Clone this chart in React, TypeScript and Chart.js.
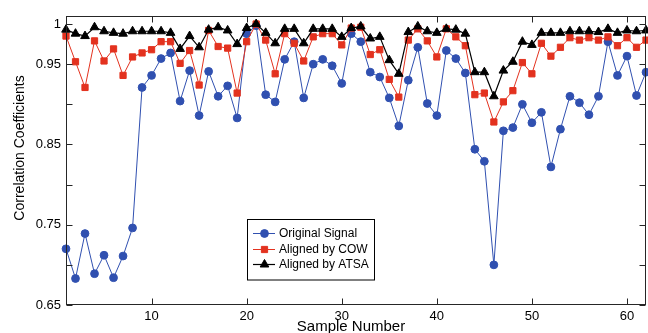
import React, { useEffect, useRef } from 'react';
import { Chart, registerables } from 'chart.js';

Chart.register(...registerables);

const sampleNumbers = [
  1, 2, 3, 4, 5, 6, 7, 8, 9, 10, 11, 12, 13, 14, 15, 16, 17, 18, 19, 20, 21,
  22, 23, 24, 25, 26, 27, 28, 29, 30, 31, 32, 33, 34, 35, 36, 37, 38, 39, 40,
  41, 42, 43, 44, 45, 46, 47, 48, 49, 50, 51, 52, 53, 54, 55, 56, 57, 58, 59,
  60, 61, 62,
];

const originalSignal = [
  0.72, 0.683, 0.739, 0.689, 0.712, 0.684, 0.711, 0.746, 0.921, 0.936,
  0.957, 0.964, 0.904, 0.942, 0.886, 0.941, 0.91, 0.923, 0.883, 0.988,
  0.998, 0.912, 0.903, 0.956, 0.978, 0.908, 0.95, 0.956, 0.948, 0.926,
  0.988, 0.978, 0.94, 0.934, 0.908, 0.873, 0.93, 0.971, 0.901, 0.886,
  0.967, 0.957, 0.939, 0.844, 0.829, 0.7, 0.867, 0.871, 0.9, 0.877,
  0.89, 0.822, 0.869, 0.91, 0.902, 0.887, 0.91, 0.978, 0.936, 0.96, 0.911, 0.94,
];

const alignedCOW = [
  0.985, 0.953, 0.921, 0.979, 0.954, 0.969, 0.936, 0.959, 0.964, 0.968,
  0.978, 0.978, 0.951, 0.967, 0.924, 0.992, 0.972, 0.97, 0.914, 0.978,
  1.0, 0.98, 0.938, 0.988, 0.976, 0.954, 0.984, 0.988, 0.988, 0.974,
  0.995, 0.996, 0.962, 0.968, 0.931, 0.909, 0.98, 0.994, 0.979, 0.959,
  0.994, 0.984, 0.973, 0.912, 0.914, 0.878, 0.903, 0.917, 0.952, 0.938,
  0.976, 0.96, 0.971, 0.983, 0.98, 0.983, 0.98, 0.984, 0.973, 0.983, 0.971, 0.98,
];

const alignedATSA = [
  0.993, 0.988, 0.985, 0.996, 0.991, 0.989, 0.988, 0.991, 0.991, 0.991,
  0.991, 0.989, 0.969, 0.985, 0.971, 0.993, 0.996, 0.992, 0.975, 0.995,
  1.0, 0.989, 0.976, 0.994, 0.994, 0.976, 0.994, 0.994, 0.994, 0.984,
  0.995, 0.997, 0.982, 0.984, 0.955, 0.938, 0.99, 0.997, 0.991, 0.989,
  0.994, 0.993, 0.988, 0.94, 0.94, 0.91, 0.942, 0.953, 0.978, 0.974,
  0.989, 0.989, 0.989, 0.991, 0.991, 0.991, 0.99, 0.994, 0.989, 0.992, 0.991, 0.992,
];

const seriesNames = ['Original Signal', 'Aligned by COW', 'Aligned by ATSA'];
const xTickValues = [10, 20, 30, 40, 50, 60];
const yTickValues = [0.65, 0.7, 0.75, 0.8, 0.85, 0.9, 0.95, 1.0];
const yTickLabels = ['0.65', '', '0.75', '', '0.85', '', '0.95', '1'];
const xTitle = 'Sample Number';
const yTitle = 'Correlation Coefficients';

const FONT = "'Liberation Sans', Arial, Helvetica, sans-serif";
const BLUE = '#3050B0';
const RED = '#E3321F';
const BLACK = '#000000';

const styles = [
  { color: BLUE, shape: 'circle', r: 3.9, width: 1 },
  { color: RED, shape: 'rect', r: 4.4, width: 1 },
  { color: BLACK, shape: 'triangle', r: 5.0, width: 1.2 },
];

function drawMarker(ctx: CanvasRenderingContext2D, shape: string, x: number, y: number, r: number, color: string) {
  ctx.fillStyle = color;
  ctx.strokeStyle = color;
  ctx.lineWidth = 1;
  ctx.beginPath();
  if (shape === 'circle') {
    ctx.arc(x, y, r, 0, Math.PI * 2);
  } else if (shape === 'rect') {
    const s = r * Math.SQRT1_2;
    ctx.rect(x - s, y - s, 2 * s, 2 * s);
  } else {
    ctx.moveTo(x, y - r);
    ctx.lineTo(x + Math.sin((2 * Math.PI) / 3) * r, y + r / 2);
    ctx.lineTo(x - Math.sin((2 * Math.PI) / 3) * r, y + r / 2);
    ctx.closePath();
  }
  ctx.fill();
  ctx.stroke();
}

const framePlugin = {
  id: 'frame',
  afterDraw(chart: any) {
    const { ctx, chartArea: a, scales } = chart;
    const xs = scales.x;
    const ys = scales.y;
    ctx.save();
    ctx.strokeStyle = '#262626';
    ctx.lineWidth = 1;
    const L = Math.round(a.left) + 0.5;
    const R = Math.round(a.right) - 0.5;
    const T = Math.round(a.top) + 0.5;
    const B = Math.round(a.bottom) - 0.5;
    ctx.strokeRect(L, T, R - L, B - T);
    ctx.beginPath();
    for (const t of xs.ticks) {
      const px = Math.round(xs.getPixelForValue(t.value)) + 0.5;
      ctx.moveTo(px, B); ctx.lineTo(px, B - 6);
      ctx.moveTo(px, T); ctx.lineTo(px, T + 6);
    }
    for (const t of ys.ticks) {
      const py = Math.round(ys.getPixelForValue(t.value)) + 0.5;
      ctx.moveTo(L, py); ctx.lineTo(L + 6, py);
      ctx.moveTo(R, py); ctx.lineTo(R - 6, py);
    }
    ctx.stroke();

    // axis titles
    ctx.fillStyle = '#000';
    ctx.textAlign = 'center';
    ctx.textBaseline = 'middle';
    ctx.font = `15px ${FONT}`;
    ctx.fillText(xTitle, 351, 326.5);
    ctx.font = `14px ${FONT}`;
    ctx.save();
    ctx.translate(20, 148);
    ctx.rotate(-Math.PI / 2);
    ctx.fillText(yTitle, 0, 0);
    ctx.restore();

    // legend
    const bx = 247, by = 219.5, bw = 127, bh = 60.5;
    ctx.fillStyle = '#fff';
    ctx.fillRect(bx, by, bw, bh);
    ctx.strokeStyle = '#000';
    ctx.lineWidth = 1;
    ctx.strokeRect(bx + 0.5, by, bw, bh);
    const rows = [233.5, 249.5, 264.5];
    chart.data.datasets.forEach((ds: any, i: number) => {
      const st = styles[i];
      const yy = rows[i];
      ctx.strokeStyle = st.color;
      ctx.lineWidth = st.width;
      ctx.beginPath();
      ctx.moveTo(253, yy);
      ctx.lineTo(275, yy);
      ctx.stroke();
      drawMarker(ctx, st.shape, 264.5, yy, st.r, st.color);
      ctx.fillStyle = '#000';
      ctx.font = `12px ${FONT}`;
      ctx.textAlign = 'left';
      ctx.textBaseline = 'middle';
      ctx.fillText(ds.label, 279, yy + 0.5);
    });
    ctx.restore();
  },
};

export default function App() {
  const ref = useRef<HTMLCanvasElement>(null);
  useEffect(() => {
    if (!ref.current) return;
    Chart.defaults.color = '#000';
    const seriesData = [originalSignal, alignedCOW, alignedATSA];
    const chart = new Chart(ref.current, {
      type: 'line',
      data: {
        datasets: seriesData.map((vals, i) => ({
          label: seriesNames[i],
          data: vals.map((v, j) => ({ x: sampleNumbers[j], y: v })),
          borderColor: styles[i].color,
          backgroundColor: styles[i].color,
          borderWidth: styles[i].width,
          pointStyle: styles[i].shape as any,
          pointRadius: styles[i].r,
          pointBorderWidth: 1,
          pointBackgroundColor: styles[i].color,
          pointBorderColor: styles[i].color,
          tension: 0,
          fill: false,
          clip: false as any,
          order: 3 - i,
        })),
      },
      options: {
        animation: false,
        responsive: false,
        devicePixelRatio: 1,
        layout: { autoPadding: false, padding: { top: 16, right: 2, left: 0, bottom: 0 } },
        plugins: { legend: { display: false }, tooltip: { enabled: false } },
        scales: {
          x: {
            type: 'linear',
            min: 1,
            max: 62,
            grid: { display: false, drawTicks: false },
            border: { display: false },
            afterBuildTicks: (s: any) => { s.ticks = xTickValues.map((v) => ({ value: v })); },
            afterFit: (s: any) => {
              s.height = 28;
              s.paddingLeft = 0;
              s.paddingRight = 0;
              s.paddingTop = 0;
              s.paddingBottom = 0;
            },
            ticks: {
              font: { family: FONT, size: 13 },
              padding: 4,
              maxRotation: 0,
              autoSkip: false,
              callback: (v: any) => String(v),
            },
          },
          y: {
            type: 'linear',
            min: 0.65,
            max: 1.01,
            grid: { display: false, drawTicks: false },
            border: { display: false },
            afterBuildTicks: (s: any) => { s.ticks = yTickValues.map((v) => ({ value: v })); },
            afterFit: (s: any) => {
              s.width = 66;
              s.paddingTop = 0;
              s.paddingBottom = 0;
              s.paddingLeft = 0;
              s.paddingRight = 0;
            },
            ticks: {
              font: { family: FONT, size: 13 },
              padding: 5,
              autoSkip: false,
              callback: (_v: any, idx: number) => yTickLabels[idx],
            },
          },
        },
      },
      plugins: [framePlugin],
    });
    return () => chart.destroy();
  }, []);
  return (
    <div style={{ position: 'absolute', left: 0, top: 0, width: 648, height: 333, background: '#fff' }}>
      <canvas ref={ref} width={648} height={333} />
    </div>
  );
}
